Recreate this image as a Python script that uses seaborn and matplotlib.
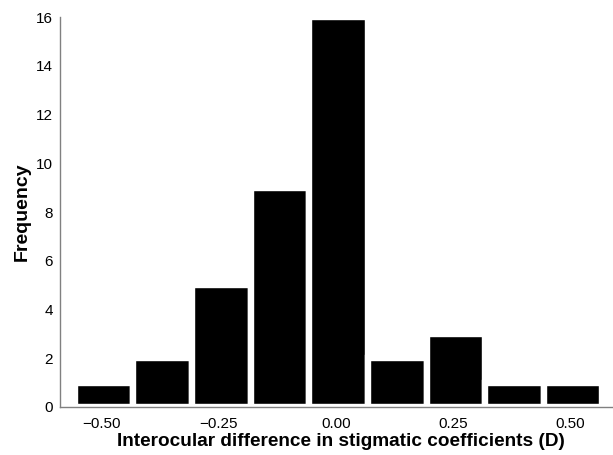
import matplotlib
matplotlib.use("Agg")
import matplotlib.pyplot as plt
import seaborn as sns
import pandas as pd

bin_centers = [-0.500, -0.375, -0.250, -0.125, 0.000, 0.125, 0.250, 0.375, 0.500]
frequency = [1, 2, 5, 9, 16, 2, 3, 1, 1]
x_ticks = [-0.50, -0.25, 0.00, 0.25, 0.50]
x_tick_labels = ["\u22120.50", "\u22120.25", "0.00", "0.25", "0.50"]
y_ticks = [0, 2, 4, 6, 8, 10, 12, 14, 16]

sns.set_style("white")
plt.rcParams['font.family'] = ['Liberation Sans', 'DejaVu Sans']
plt.rcParams['text.color'] = 'black'

df = pd.DataFrame({"diff": bin_centers, "count": frequency})

fig = plt.figure(figsize=(6.13, 4.55), dpi=100)
ax = fig.add_axes([60/613, 48/455, 553/613, 390/455])

width = 0.125
shift = 0.006
sns.histplot(data=df, x="diff", weights="count", binwidth=width,
             binrange=(bin_centers[0] - width/2 + shift, bin_centers[-1] + width/2 + shift),
             ax=ax, color="black", edgecolor="white", linewidth=4.6, alpha=1.0)

ax.set_xlim(-0.588, 0.591)
ax.set_ylim(0, 16)
ax.set_xticks(x_ticks)
ax.set_xticklabels(x_tick_labels)
ax.set_yticks(y_ticks)
ax.tick_params(axis='x', length=0, labelsize=11, pad=7, labelcolor='black')
ax.tick_params(axis='y', direction='in', length=5, width=1, labelsize=11,
               pad=5, color='#808080', labelcolor='black')
for s in ['top', 'right']:
    ax.spines[s].set_visible(False)
for s in ['left', 'bottom']:
    ax.spines[s].set_color('#808080')
    ax.spines[s].set_linewidth(1.0)
ax.set_xlabel("Interocular difference in stigmatic coefficients (D)",
              fontsize=13.7, fontweight='bold', color='black')
ax.xaxis.set_label_coords(0.508, -0.067)
ax.set_ylabel("Frequency", fontsize=14, fontweight='bold', labelpad=4, color='black')

fig.savefig("out.png", dpi=100)
